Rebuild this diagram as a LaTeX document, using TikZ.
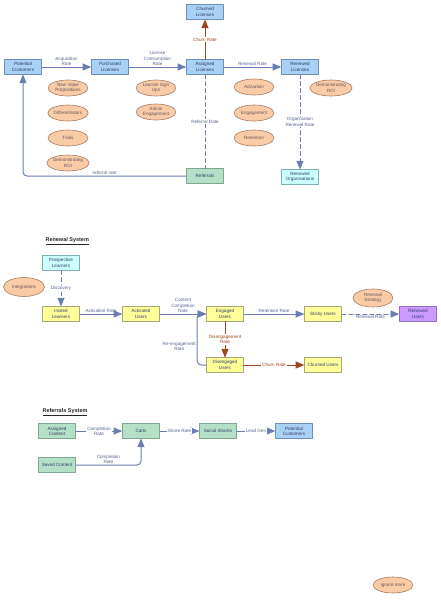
\documentclass[tikz,border=0pt]{standalone}
\usepackage{fontspec}
\setmainfont{Liberation Sans}
\usetikzlibrary{arrows}
\usetikzlibrary{shapes.geometric}
\definecolor{flowblue}{HTML}{6A7DB5}
\definecolor{flowbrown}{HTML}{A0461E}
\definecolor{inkblue}{HTML}{2F3B6B}
\definecolor{fillblue}{HTML}{A9D0F5}
\definecolor{edgeblue}{HTML}{6F8FB8}
\definecolor{fillyellow}{HTML}{FFFF99}
\definecolor{edgeyellow}{HTML}{A8A878}
\definecolor{fillgreen}{HTML}{B5E0C8}
\definecolor{edgegreen}{HTML}{7FA890}
\definecolor{fillcyan}{HTML}{CCFFFF}
\definecolor{edgecyan}{HTML}{7FAFB5}
\definecolor{fillpurple}{HTML}{CC99FF}
\definecolor{edgepurple}{HTML}{9070B8}
\definecolor{fillpeach}{HTML}{F9CBA7}
\definecolor{edgepeach}{HTML}{A77B5E}
\tikzset{
  stockbox/.style={rectangle,draw=#1,line width=0.6pt,minimum width=37pt,minimum height=14.5pt,inner sep=1pt,align=center,text=inkblue},
  bluebox/.style={stockbox=edgeblue,fill=fillblue},
  yellowbox/.style={stockbox=edgeyellow,fill=fillyellow},
  greenbox/.style={stockbox=edgegreen,fill=fillgreen},
  cyanbox/.style={stockbox=edgecyan,fill=fillcyan},
  purplebox/.style={stockbox=edgepurple,fill=fillpurple},
  factor/.style={ellipse,draw=edgepeach,fill=fillpeach,line width=0.6pt,minimum width=40pt,minimum height=16pt,inner sep=0pt,align=center,text=inkblue!60!brown},
  flow/.style={draw=flowblue,line width=1pt},
  churnflow/.style={draw=flowbrown,line width=1pt},
  dashflow/.style={flow,dash pattern=on 4pt off 3pt},
  rate/.style={text=flowblue!80!black,align=center,inner sep=1pt},
  churnrate/.style={text=flowbrown,align=center,inner sep=1pt},
  heading/.style={anchor=west,font=\fontsize{5.5}{6}\selectfont\bfseries,text=black!85}
}
\begin{document}
\begin{tikzpicture}[x=1pt,y=-1pt,line cap=round,line join=round,>=triangle 45,font=\fontsize{4.6}{5.3}\selectfont]
\useasboundingbox (0,0) rectangle (441,600);
% licence flow
\node[bluebox] (potential) at (23,67) {Potential\\Customers};
\node[bluebox] (purchased) at (110,67) {Purchased\\Licenses};
\node[bluebox] (assigned) at (205,67) {Assigned\\Licenses};
\node[bluebox] (churned) at (205,12) {Churned\\Licenses};
\node[bluebox] (renewed) at (300,67) {Renewed\\Licenses};
\node[greenbox] (referrals) at (205,176) {Referrals};
\node[cyanbox] (renewedorgs) at (300,177) {Renewed\\Organisations};
\node[factor] (valueprops) at (68,88) {New Value\\Propositions};
\node[factor] (differentiators) at (68,113) {Differentiators};
\node[factor] (trials) at (68,138) {Trials};
\node[factor] (roifirst) at (68,163) {Demonstrating\\ROI};
\node[factor] (signups) at (156,88) {Learner Sign\\Ups};
\node[factor] (adminengage) at (156,112) {Admin\\Engagement};
\node[factor] (activation) at (254,87) {Activation};
\node[factor] (engagement) at (254,113) {Engagement};
\node[factor] (retention) at (254,138) {Retention};
\node[factor] (roisecond) at (331,88) {Demonstrating\\ROI};
\draw[flow,->] (potential) -- (purchased) node[midway,above,rate] {Acquisition\\Rate};
\draw[flow,->] (purchased) -- (assigned) node[midway,above,rate] {License\\Consumption\\Rate};
\draw[flow,->] (assigned) -- (renewed) node[midway,above,rate] {Renewal Rate};
\draw[churnflow,->] (assigned) -- (churned) node[midway,fill=white,churnrate] {Churn Rate};
\draw[dashflow] (assigned) -- (referrals) node[midway,fill=white,rate] {Referral Rate};
\draw[dashflow,->] (renewed) -- (renewedorgs) node[midway,fill=white,rate] {Organisation\\Renewal Rate};
\draw[flow,->,rounded corners=4pt] (referrals.west) -| (potential.south) node[pos=0.25,above,rate] {referral rate};
% renewal system
\node[heading] (renewalhead) at (42,241) {\underline{Renewal System}};
\node[cyanbox] (prospective) at (61,263) {Prospective\\Learners};
\node[factor,minimum width=41pt,minimum height=19pt] (integrations) at (24,287) {Integrations};
\node[yellowbox] (invited) at (61,314) {Invited\\Learners};
\node[yellowbox] (activated) at (141,314) {Activated\\Users};
\node[yellowbox] (engaged) at (225,314) {Engaged\\Users};
\node[yellowbox] (disengaged) at (225,365) {Disengaged\\Users};
\node[yellowbox] (sticky) at (323,314) {Sticky Users};
\node[yellowbox] (churnedusers) at (323,365) {Churned Users};
\node[purplebox] (renewedusers) at (418,314) {Renewed\\Users};
\node[factor,minimum height=18pt] (strategy) at (373,298) {Renewal\\Strategy};
\draw[dashflow,->] (prospective) -- (invited) node[midway,fill=white,rate] {Discovery};
\draw[flow,->] (invited) -- (activated) node[midway,above,rate] {Activation Rate};
\draw[flow,->] (activated) -- (engaged) node[midway,above,rate] {Content\\Completion\\Rate};
\draw[flow,->,rounded corners=4pt] (disengaged.west) -| ([xshift=-9pt]engaged.west) node[pos=0.68,left,rate] {Re-engagement\\Rate} -- (engaged.west);
\draw[churnflow,->] (engaged) -- (disengaged) node[midway,fill=white,churnrate] {Disengagement\\Rate};
\draw[flow,->] (engaged) -- (sticky) node[midway,above,rate] {Retention Rate};
\draw[dashflow,->] (sticky) -- (renewedusers) node[midway,below,rate] {Renewal Rate};
\draw[churnflow,->] (disengaged) -- (churnedusers) node[midway,fill=white,churnrate] {Churn Rate};
% referrals system
\node[heading] (referralshead) at (39,412) {\underline{Referrals System}};
\node[greenbox] (assignedcontent) at (57,431) {Assigned\\Content};
\node[greenbox] (carts) at (141,431) {Carts};
\node[greenbox] (socialshares) at (218,431) {Social Shares};
\node[bluebox] (leads) at (294,431) {Potential\\Customers};
\node[greenbox] (savedcontent) at (57,465) {Saved Content};
\draw[flow,->] (assignedcontent) -- (carts) node[midway,fill=white,rate] {Completion\\Rate};
\draw[flow,->] (carts) -- (socialshares) node[midway,fill=white,rate] {Share Rate};
\draw[flow,->] (socialshares) -- (leads) node[midway,fill=white,rate] {Lead Gen};
\draw[flow,->,rounded corners=4pt] (savedcontent.east) -| (carts.south) node[pos=0.25,above,rate] {Completion\\Rate};
\node[factor] (ignoremore) at (393,585) {Ignore more};
\end{tikzpicture}
\end{document}
